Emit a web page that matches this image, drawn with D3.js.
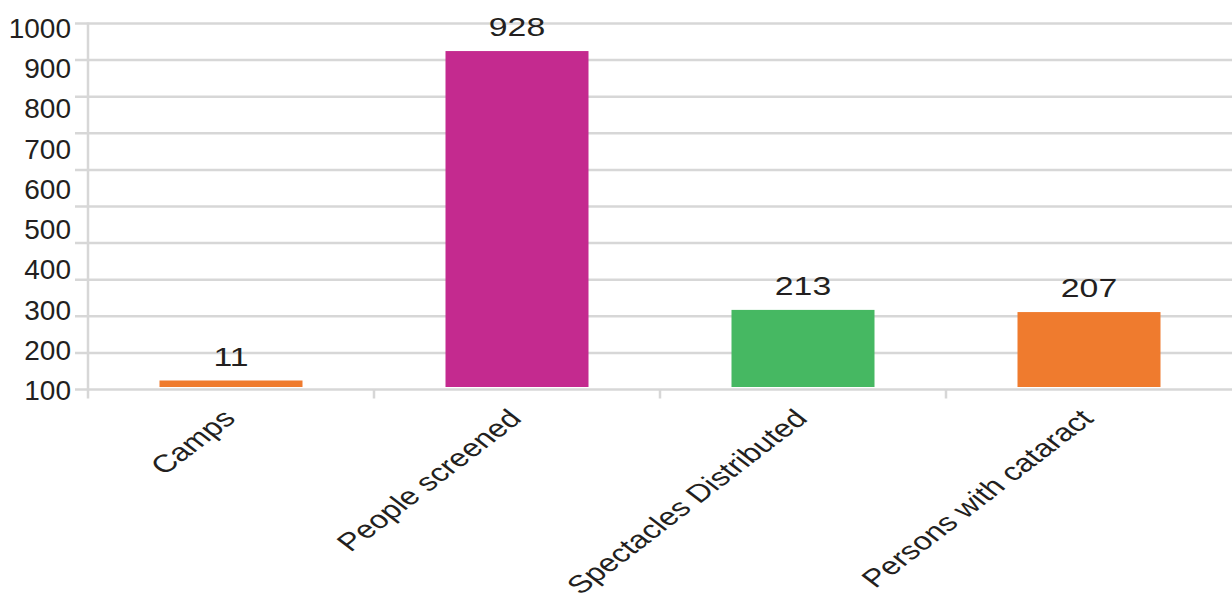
<!DOCTYPE html>
<html>
<head>
<meta charset="utf-8">
<script src="https://cdn.jsdelivr.net/npm/d3@7"></script>
<style>
  html, body { margin: 0; padding: 0; background: #fff; }
  svg { display: block; }
  text { font-family: "Liberation Sans", Arial, Helvetica, sans-serif; fill: #231f20; }
</style>
</head>
<body>
<svg id="chart" width="1232" height="599"></svg>
<script>
const categories = ["Camps", "People screened", "Spectacles Distributed", "Persons with cataract"];
const values = [11, 928, 213, 207];
const colors = ["#EF7B2E", "#C42A8F", "#46B862", "#EF7B2E"];
const yTickLabels = ["100", "200", "300", "400", "500", "600", "700", "800", "900", "1000"];
const gridValues = [0, 100, 200, 300, 400, 500, 600, 700, 800, 900, 1000];

const W = 1232, H = 599;
const svg = d3.select("#chart");
const gridColor = "#d7d7d7";

// gridline scale and bar scale (bars sit inside the plot frame, slightly inset)
const y = d3.scaleLinear().domain([0, 1000]).range([389.5, 23.5]);
const yBar = d3.scaleLinear().domain([0, 1000]).range([387, 25]);
const x = d3.scaleBand().domain(categories).range([88, W]).paddingInner(0.5).paddingOuter(0.25);
const yLab = d3.scalePoint().domain(yTickLabels).range([389, 27]);

// gridlines
svg.append("g").selectAll("line").data(gridValues).join("line")
  .attr("x1", 75).attr("x2", W)
  .attr("y1", d => y(d)).attr("y2", d => y(d))
  .attr("stroke", gridColor).attr("stroke-width", 2.5);

// y axis line
svg.append("line")
  .attr("x1", 88).attr("x2", 88)
  .attr("y1", y(1000) - 1).attr("y2", y(0) + 9)
  .attr("stroke", gridColor).attr("stroke-width", 2.5);

// x ticks between bands
const boundaries = categories.slice(1).map(c => x(c) - x.step() * x.paddingInner() / 2);
svg.append("g").selectAll("line").data(boundaries).join("line")
  .attr("x1", d => d).attr("x2", d => d)
  .attr("y1", y(0)).attr("y2", y(0) + 9)
  .attr("stroke", gridColor).attr("stroke-width", 2.5);

// y labels
svg.append("g").selectAll("text").data(yTickLabels).join("text")
  .attr("x", 71).attr("y", d => yLab(d) + 11)
  .attr("text-anchor", "end")
  .attr("font-size", 28)
  .text(d => d);

// bars
const data = categories.map((c, i) => ({ c, v: values[i], color: colors[i] }));
const barTop = d => Math.min(yBar(d.v), yBar(0) - 6.5);
svg.append("g").selectAll("rect").data(data).join("rect")
  .attr("x", d => x(d.c))
  .attr("width", x.bandwidth())
  .attr("y", d => barTop(d))
  .attr("height", d => yBar(0) - barTop(d))
  .attr("fill", d => d.color);

// value labels
svg.append("g").selectAll("text").data(data).join("text")
  .attr("transform", d => `translate(${x(d.c) + x.bandwidth() / 2},${barTop(d) - 15}) scale(1.3,1)`)
  .attr("text-anchor", "middle")
  .attr("font-size", 26)
  .text(d => d.v);

// x labels
svg.append("g").selectAll("text").data(categories).join("text")
  .attr("transform", d => `translate(${x(d) + x.bandwidth() / 2 + 6},${420}) scale(1.3,1) rotate(-45)`)
  .attr("text-anchor", "end")
  .attr("font-size", 25)
  .text(d => d);
</script>
</body>
</html>
